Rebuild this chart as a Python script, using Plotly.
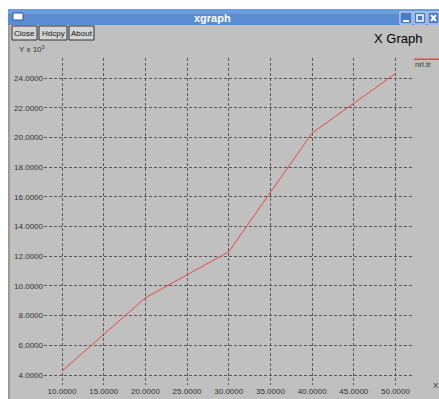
import plotly.graph_objects as go

# Series "nrl.tr"
x_vals = [10, 20, 30, 40, 50]
y_vals = [4.27, 9.2, 12.3, 20.3, 24.3]  # in units of 10^3

x_ticks = [10, 15, 20, 25, 30, 35, 40, 45, 50]
y_ticks = [4, 6, 8, 10, 12, 14, 16, 18, 20, 22, 24]

W, H = 439, 399
GRAY = "#c0c0c0"
RED = "#e8484c"


def px(x):
    return x / W


def py(y):
    return 1 - y / H


def rect(x0, y0, x1, y1, fill, line=None, width=1):
    return dict(type="rect", xref="paper", yref="paper",
                x0=px(x0), x1=px(x1), y0=py(y1), y1=py(y0),
                fillcolor=fill, line=dict(color=line or fill, width=width if line else 0),
                layer="below")


def text(x, y, s, size, color="#222", anchor="left", bold=False, family="Liberation Sans"):
    return dict(xref="paper", yref="paper", x=px(x), y=py(y), text=("<b>%s</b>" % s) if bold else s,
                showarrow=False, xanchor=anchor, yanchor="middle",
                font=dict(size=size, color=color, family=family))


fig = go.Figure()
fig.add_trace(go.Scatter(x=x_vals, y=y_vals, mode="lines", name="nrl.tr",
                         line=dict(color=RED, width=1), showlegend=False))

shapes = [
    # window body and border
    rect(8, 9, 439, 399, "#9a9a9a"),
    rect(10, 25, 439, 399, GRAY),
    # title bar
    rect(8, 9, 439, 25, "#5a8cd2"),
    rect(8, 9, 439, 14, "#6e9cdc"),
    # window menu icon
    rect(13, 13, 23, 20, "#ffffff", "#2d5c9c", 1),
    # minimize / maximize / close boxes
    rect(400, 12, 412, 24, "#4a7cc4", "#dfe9f7", 1),
    rect(414, 12, 426, 24, "#4a7cc4", "#dfe9f7", 1),
    rect(428, 12, 439, 24, "#4a7cc4", "#dfe9f7", 1),
    rect(403, 20, 409, 22, "#ffffff"),
    rect(417, 15, 423, 21, "#4a7cc4", "#ffffff", 1.5),
    # buttons
    rect(12, 26, 37, 40, "#d4d4d4", "#303030", 1),
    rect(39, 26, 67, 40, "#d4d4d4", "#303030", 1),
    rect(69, 26, 94, 40, "#d4d4d4", "#303030", 1),
    # legend swatch
    rect(414, 58.5, 439, 60, RED),
]
# close-box cross
shapes += [
    dict(type="line", xref="paper", yref="paper", x0=px(431), x1=px(436), y0=py(15), y1=py(21),
         line=dict(color="#ffffff", width=2)),
    dict(type="line", xref="paper", yref="paper", x0=px(431), x1=px(436), y0=py(21), y1=py(15),
         line=dict(color="#ffffff", width=2)),
]

annotations = [
    text(212, 17.5, "xgraph", 11, "#ffffff", "center", bold=True),
    text(24.5, 33.5, "Close", 8, "#111", "center"),
    text(53, 33.5, "Hdcpy", 8, "#111", "center"),
    text(81.5, 33.5, "About", 8, "#111", "center"),
    text(372, 38, "X Graph", 13, "#000"),
    text(17, 49, "Y x 10<sup>3</sup>", 8, "#333"),
    text(413, 65, "nrl.tr", 8, "#333"),
    text(431, 385, "X", 8, "#333"),
]

axis_font = dict(family="Liberation Sans", size=8, color="#333333")
grid = dict(showgrid=True, gridcolor="#585858", gridwidth=1, griddash="3px,2px",
            zeroline=False, showline=False, ticks="", tickformat=".4f",
            tickfont=axis_font, fixedrange=True)
fig.update_layout(
    width=W, height=H, margin=dict(l=0, r=0, t=0, b=0),
    paper_bgcolor="#ffffff", plot_bgcolor=GRAY,
    shapes=shapes, annotations=annotations,
    xaxis=dict(domain=[px(44), px(413)], range=[7.84, 52.1], tickvals=x_ticks, **grid),
    yaxis=dict(domain=[py(385), py(58)], range=[3.33, 25.35], tickvals=y_ticks, **grid),
)

fig.write_html("out.html")
